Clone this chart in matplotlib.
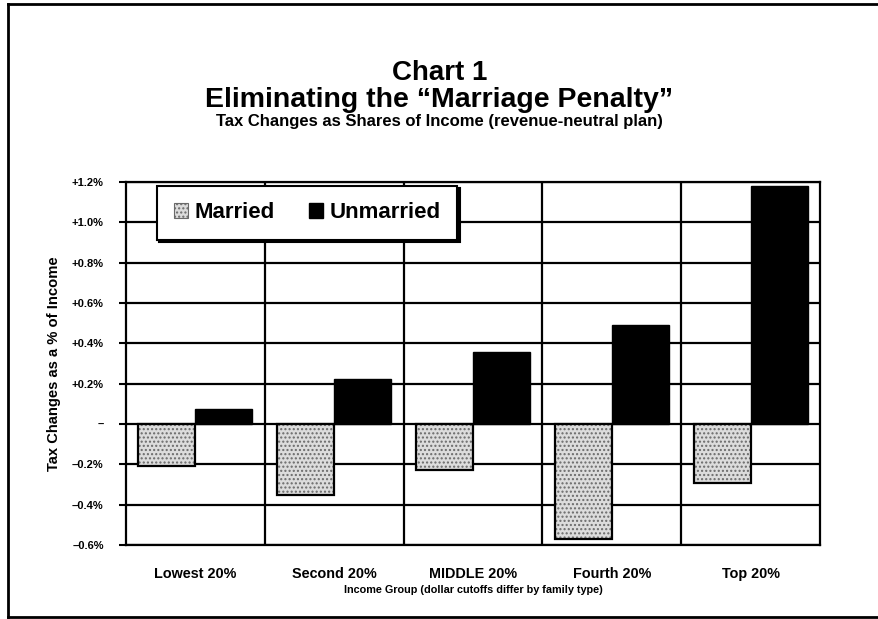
import numpy as np
import matplotlib
matplotlib.use("Agg")
import matplotlib.pyplot as plt
from matplotlib.lines import Line2D
from matplotlib.patches import Patch

plt.rcParams['font.family'] = ['Liberation Sans', 'DejaVu Sans']
plt.rcParams['font.weight'] = 'bold'

# DATA (percent of income)
groups = ["Lowest 20%", "Second 20%", "MIDDLE 20%", "Fourth 20%", "Top 20%"]
married = [-0.21, -0.35, -0.23, -0.57, -0.29]
unmarried = [0.075, 0.225, 0.355, 0.49, 1.18]
yticks = [-0.6, -0.4, -0.2, 0.0, 0.2, 0.4, 0.6, 0.8, 1.0, 1.2]
ytick_labels = ["\u20130.6%", "\u20130.4%", "\u20130.2%", "\u2013",
                "+0.2%", "+0.4%", "+0.6%", "+0.8%", "+1.0%", "+1.2%"]

fig = plt.figure(figsize=(8.79, 6.19), dpi=100)
ax = fig.add_axes([0.1433, 0.1195, 0.7896, 0.5864])

x = np.arange(len(groups))
w = 0.41

# GRID FIRST, BARS ON TOP
for yv in yticks:
    ax.axhline(yv, color="black", lw=1.6, zorder=1)
for xv in np.arange(0.5, len(groups) - 0.5, 1):
    ax.axvline(xv, color="black", lw=1.6, zorder=1)

# stippled married bars: hatch layer, then black outline
ax.bar(x - w, married, width=w, align="edge", color="#dcdcdc",
       edgecolor="#6a6a6a", hatch="....", lw=0, zorder=2)
ax.bar(x - w, married, width=w, align="edge", fill=False,
       edgecolor="black", lw=1.6, zorder=3)
ax.bar(x, unmarried, width=w, align="edge", color="black",
       edgecolor="black", lw=1.0, zorder=3)

ax.set_xlim(-0.5, len(groups) - 0.5)
ax.set_ylim(-0.6, 1.2)
ax.set_yticks(yticks)
ax.set_yticklabels(ytick_labels, fontsize=8, fontweight="bold")
ax.tick_params(axis="y", direction="out", length=5, width=1.5, pad=11)
ax.set_xticks(x)
ax.set_xticklabels(groups, fontsize=10.4, fontweight="bold")
ax.tick_params(axis="x", length=0, pad=16)
for s in ax.spines.values():
    s.set_linewidth(1.6)

ax.set_ylabel("Tax Changes as a % of Income", fontsize=10.6,
              fontweight="bold", labelpad=8)
ax.set_xlabel("Income Group (dollar cutoffs differ by family type)",
              fontsize=7.8, fontweight="bold", labelpad=3)

handles = [Patch(facecolor="#dcdcdc", edgecolor="#6a6a6a", hatch="....", lw=0.8),
           Patch(facecolor="black", edgecolor="black")]
leg = ax.legend(handles, ["Married", "Unmarried"], loc="upper left",
                bbox_to_anchor=(0.045, 0.99), ncol=2,
                prop={"weight": "bold", "size": 16}, frameon=True,
                fancybox=False, framealpha=1, edgecolor="black",
                handlelength=0.65, handleheight=0.65, handletextpad=0.3,
                columnspacing=1.5, borderpad=0.75, borderaxespad=0,
                shadow={"color": "black", "alpha": 1, "ox": 1.5, "oy": -1.5})
leg.get_frame().set_linewidth(1.5)
leg.set_zorder(5)

fig.text(0.5, 0.882, "Chart 1", ha="center", va="center",
         fontsize=20, fontweight="bold")
fig.text(0.5, 0.838, "Eliminating the \u201cMarriage Penalty\u201d",
         ha="center", va="center", fontsize=20.5, fontweight="bold")
fig.text(0.5, 0.804, "Tax Changes as Shares of Income (revenue-neutral plan)",
         ha="center", va="center", fontsize=12, fontweight="bold")

# OUTER FRAME (left, top, bottom edges)
fl, ft, fb = 8 / 879, 1 - 4 / 619, 1 - 617 / 619
fig.add_artist(Line2D([fl, fl], [fb, ft], color="black", lw=2))
fig.add_artist(Line2D([fl, 1], [ft, ft], color="black", lw=2))
fig.add_artist(Line2D([fl, 1], [fb, fb], color="black", lw=2))

fig.savefig("out.png", dpi=100)
